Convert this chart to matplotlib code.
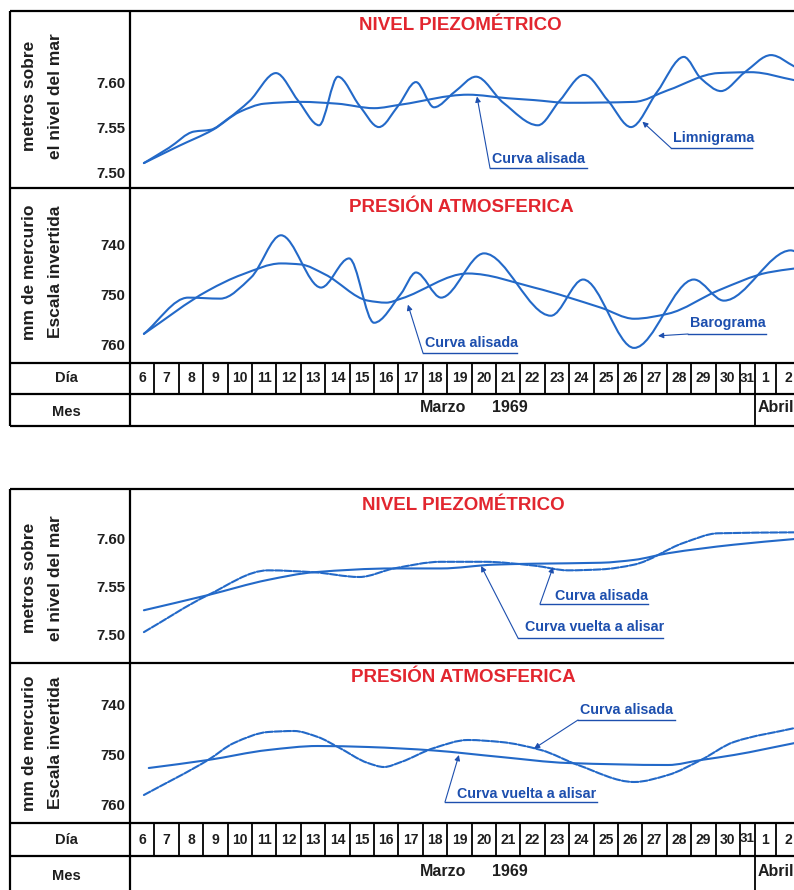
import numpy as np
import matplotlib
matplotlib.use("Agg")
import matplotlib.pyplot as plt
from matplotlib.path import Path
from matplotlib.patches import PathPatch

# ---------------------------------------------------------------- data
# x positions are days elapsed since 00:00 on 6 March 1969
days_lbl = [str(d) for d in range(6, 32)] + ["1", "2"]

# Upper block: piezometric level (m a.s.l.)
limni_t = [0.57, 1.6, 2.62, 3.3, 4.0, 4.9, 5.98, 6.9, 7.75, 8.52, 9.4, 10.2,
           11.0, 11.72, 12.46, 13.3, 14.18, 15.3, 16.72, 17.6, 18.61, 19.6,
           20.53, 21.6, 22.70, 23.4, 24.22, 25.2, 26.27, 27.25]
limni_v = [7.511, 7.528, 7.546, 7.548, 7.560, 7.580, 7.611, 7.580, 7.553,
           7.607, 7.575, 7.551, 7.575, 7.601, 7.573, 7.590, 7.607, 7.578,
           7.553, 7.580, 7.609, 7.580, 7.551, 7.590, 7.629, 7.605, 7.591,
           7.612, 7.631, 7.618]
piezo_smooth_t = [0.57, 2.0, 3.4, 4.5, 5.5, 7.0, 8.5, 10.0, 11.11, 13.85,
                  15.5, 16.56, 17.95, 20.66, 22.05, 24.10, 25.45, 27.25]
piezo_smooth_v = [7.511, 7.530, 7.548, 7.568, 7.577, 7.579, 7.577, 7.572,
                  7.576, 7.587, 7.583, 7.581, 7.578, 7.579, 7.592, 7.611,
                  7.612, 7.603]

# Upper block: atmospheric pressure (mm Hg, inverted scale)
baro_t = [0.57, 2.38, 3.7, 4.96, 6.19, 7.83, 8.98, 10.0, 11.11, 11.72, 12.75,
          14.51, 17.25, 18.57, 20.66, 23.11, 24.34, 27.09, 27.25]
baro_v = [757.8, 750.6, 750.8, 746.6, 738.2, 748.6, 742.8, 755.6, 749.8,
          745.6, 750.6, 741.8, 754.2, 747.0, 760.6, 747.0, 751.2, 741.2, 741.4]
press_smooth_t = [0.57, 3.2, 4.6, 6.19, 7.0, 8.0, 9.75, 10.5, 11.11, 13.85,
                  16.56, 19.30, 20.66, 22.05, 24.10, 26.15, 27.25]
press_smooth_v = [757.8, 749.2, 746.0, 743.8, 744.0, 746.0, 751.2, 751.6,
                  750.8, 745.8, 748.6, 752.6, 754.8, 753.8, 749.2, 745.6, 744.8]

# Lower block: smoothed level vs. re-smoothed level
lvl_alis_t = [0.57, 3.20, 5.66, 7.54, 9.4, 10.82, 12.75, 14.51, 16.56, 17.95,
              19.30, 20.66, 22.70, 24.10, 27.25]
lvl_alis_v = [7.502, 7.541, 7.567, 7.565, 7.560, 7.569, 7.576, 7.576, 7.572,
              7.567, 7.568, 7.573, 7.596, 7.606, 7.607]
lvl_vuelta_t = [0.57, 3.20, 5.66, 7.54, 10.82, 12.75, 14.92, 16.56, 19.30,
                20.66, 22.05, 24.75, 27.25]
lvl_vuelta_v = [7.525, 7.541, 7.557, 7.565, 7.569, 7.569, 7.573, 7.574,
                7.575, 7.578, 7.585, 7.594, 7.600]

# Lower block: smoothed pressure vs. re-smoothed pressure
prs_alis_t = [0.57, 3.20, 4.26, 5.66, 6.72, 7.70, 8.52, 9.75, 10.41, 11.11,
              12.46, 13.85, 15.20, 16.84, 18.36, 20.66, 22.05, 23.40, 24.75,
              27.25]
prs_alis_v = [758.2, 751.2, 747.8, 745.6, 745.4, 746.6, 748.6, 751.8, 752.6,
              751.6, 748.8, 747.2, 747.6, 749.2, 752.2, 755.6, 754.2, 751.2,
              747.6, 744.8]
prs_vuelta_t = [0.77, 3.20, 5.66, 7.70, 9.75, 11.11, 12.46, 15.20, 17.95,
                22.05, 23.40, 24.75, 27.25]
prs_vuelta_v = [752.8, 751.2, 749.2, 748.4, 748.6, 748.9, 749.3, 750.6,
                751.8, 752.2, 751.2, 750.2, 747.8]

# ---------------------------------------------------------------- style
W, H = 794, 890
BLUE = "#2369c8"
TXT_BLUE = "#1d4fae"
RED = "#e2262f"
INK = "#1e1e1e"
FONT = ["Liberation Sans", "DejaVu Sans"]
plt.rcParams["font.family"] = FONT

fig = plt.figure(figsize=(W / 100, H / 100), dpi=100)
bg = fig.add_axes([0, 0, 1, 1])
bg.set_xlim(0, W)
bg.set_ylim(H, 0)
bg.axis("off")

X0, XL, XR = 10, 130, W + 5      # outer left, label column divider, right
DAY_W = 24.4                      # pixels per day on the time axis
T_MAX = (W - XL) / DAY_W


def hermite_path(xs, ys):
    """Monotone cubic (PCHIP-style) Bezier path through the points."""
    x = np.asarray(xs, float)
    y = np.asarray(ys, float)
    h = np.diff(x)
    dl = np.diff(y) / h
    d = np.zeros_like(y)
    d[0], d[-1] = dl[0], dl[-1]
    for k in range(1, len(x) - 1):
        if dl[k - 1] * dl[k] <= 0:
            d[k] = 0.0
        else:
            w1 = 2 * h[k] + h[k - 1]
            w2 = h[k] + 2 * h[k - 1]
            d[k] = (w1 + w2) / (w1 / dl[k - 1] + w2 / dl[k])
    verts = [(x[0], y[0])]
    codes = [Path.MOVETO]
    for k in range(len(x) - 1):
        verts += [(x[k] + h[k] / 3, y[k] + d[k] * h[k] / 3),
                  (x[k + 1] - h[k] / 3, y[k + 1] - d[k + 1] * h[k] / 3),
                  (x[k + 1], y[k + 1])]
        codes += [Path.CURVE4] * 3
    return Path(verts, codes)


def curve(ax, xs, ys, ls="-", lw=1.5):
    ax.add_patch(PathPatch(hermite_path(xs, ys), fill=False, edgecolor=BLUE,
                           lw=lw, linestyle=ls, capstyle="round",
                           joinstyle="round"))


def panel(y_top, y_bot, ylim, ticks, labels):
    ax = fig.add_axes([XL / W, 1 - y_bot / H, (W - XL) / W, (y_bot - y_top) / H])
    ax.set_facecolor("none")
    ax.set_xlim(0, T_MAX)
    ax.set_ylim(*ylim)
    for s in ax.spines.values():
        s.set_visible(False)
    ax.set_xticks([])
    ax.set_yticks(ticks)
    ax.set_yticklabels(labels, fontsize=10.8, fontweight="bold", color=INK)
    ax.tick_params(axis="y", length=0, pad=3.5)
    return ax


def note(ax, text, tip, start, text_x, text_y, underline_end):
    """Underlined label with a leader arrow to a point on a curve."""
    bg.text(text_x, text_y, text, fontsize=10.3, fontweight="bold",
            color=TXT_BLUE, ha="left", va="center", zorder=5)
    bg.plot([start[0], underline_end], [start[1], start[1]], color=TXT_BLUE,
            lw=1.0, zorder=5)
    ax.annotate("", xy=tip, xycoords="data", xytext=start,
                textcoords=bg.transData,
                arrowprops=dict(arrowstyle="-|>", color=TXT_BLUE, lw=0.8,
                                mutation_scale=8, shrinkA=0, shrinkB=0))


def hline(y, x0=X0, x1=XR, lw=1.6):
    bg.plot([x0, x1], [y, y], color="black", lw=lw, solid_capstyle="butt")


def vline(x, y0, y1, lw=1.6):
    bg.plot([x, x], [y0, y1], color="black", lw=lw, solid_capstyle="butt")


def ylabel(text1, text2, yc):
    for xc, t in ((30, text1), (56, text2)):
        bg.text(xc, yc, t, rotation=90, ha="center", va="center",
                fontsize=12.5, fontweight="bold", color=INK)


def title(text, xc, yc):
    bg.text(xc, yc, text, ha="center", va="center", fontsize=13.5,
            fontweight="bold", color=RED)


# day-row column edges (last two March cells are narrower)
col_edges = [XL + DAY_W * i for i in range(26)] + [755, 776, 800]


def time_table(y_top, y_mid, y_bot):
    hline(y_top)
    hline(y_mid)
    if y_bot < H:
        hline(y_bot)
    for xe in col_edges[1:-1]:
        vline(xe, y_top, y_mid, lw=1.3)
    vline(col_edges[-3], y_mid, min(y_bot, H), lw=1.3)
    yd = (y_top + y_mid) / 2
    for i, lab in enumerate(days_lbl):
        xc = (col_edges[i] + col_edges[i + 1]) / 2
        bg.text(xc, yd, lab, ha="center", va="center",
                fontsize=9.6 if len(lab) > 1 and i == 25 else 10,
                fontweight="bold", color=INK)
    bg.text(66, yd, "Día", ha="center", va="center", fontsize=10.5,
            fontweight="bold", color=INK)
    ym = (y_mid + y_bot) / 2
    bg.text(66, ym + 2, "Mes", ha="center", va="center", fontsize=10.5,
            fontweight="bold", color=INK)
    bg.text(443, ym - 3, "Marzo", ha="center", va="center", fontsize=11.5,
            fontweight="bold", color=INK)
    bg.text(510, ym - 3, "1969", ha="center", va="center", fontsize=11.5,
            fontweight="bold", color=INK)
    bg.text(col_edges[-3] + 3, ym - 3, "Abril", ha="left", va="center",
            fontsize=11.5, fontweight="bold", color=INK)


# ---------------------------------------------------------------- upper block
T1, D1, D2, R1, R2 = 11, 188, 363, 394, 426
hline(T1)
hline(D1)
vline(X0, T1, R2)
vline(XL, T1, R2)
time_table(D2, R1, R2)

ax1 = panel(T1, D1, (7.4833, 7.68), [7.50, 7.55, 7.60], ["7.50", "7.55", "7.60"])
curve(ax1, limni_t, limni_v)
curve(ax1, piezo_smooth_t, piezo_smooth_v)
title("NIVEL PIEZOMÉTRICO", 460, 26)
ylabel("metros sobre", "el nivel del mar", 96)
note(ax1, "Curva alisada", (14.22, 7.585), (490, 168), 492, 159, 587)
note(ax1, "Limnigrama", (21.0, 7.557), (671, 148), 673, 138, 752)

ax2 = panel(D1, D2, (763.6, 728.8), [740, 750, 760], ["740", "750", "760"])
curve(ax2, baro_t, baro_v)
curve(ax2, press_smooth_t, press_smooth_v)
title("PRESIÓN ATMOSFERICA", 461, 208)
ylabel("mm de mercurio", "Escala invertida", 272)
note(ax2, "Curva alisada", (11.39, 752.0), (423, 353), 425, 343, 517)
note(ax2, "Barograma", (21.64, 758.2), (688, 334), 690, 323, 766)

# ---------------------------------------------------------------- lower block
B1, E1, E2, S1, S2 = 489, 663, 823, 856, 893
hline(B1)
hline(E1)
vline(X0, B1, H)
vline(XL, B1, H)
time_table(E2, S1, S2)

ax3 = panel(B1, E1, (7.4695, 7.6526), [7.50, 7.55, 7.60], ["7.50", "7.55", "7.60"])
curve(ax3, lvl_alis_t, lvl_alis_v, ls=(0, (3.5, 0.9)))
curve(ax3, lvl_vuelta_t, lvl_vuelta_v)
title("NIVEL PIEZOMÉTRICO", 463, 505)
ylabel("metros sobre", "el nivel del mar", 578)
note(ax3, "Curva alisada", (17.34, 7.5705), (540, 604), 555, 596, 648)
note(ax3, "Curva vuelta a alisar", (14.39, 7.5716), (518, 638), 525, 627, 663)

ax4 = panel(E1, E2, (763.8, 731.8), [740, 750, 760], ["740", "750", "760"])
curve(ax4, prs_alis_t, prs_alis_v, ls=(0, (3.5, 0.9)))
curve(ax4, prs_vuelta_t, prs_vuelta_v)
title("PRESIÓN ATMOSFERICA", 463, 678)
ylabel("mm de mercurio", "Escala invertida", 743)
note(ax4, "Curva alisada", (16.56, 748.9), (578, 720), 580, 710, 675)
note(ax4, "Curva vuelta a alisar", (13.48, 750.2), (445, 802), 457, 794, 597)

fig.savefig("out.png", dpi=100, facecolor="white")
